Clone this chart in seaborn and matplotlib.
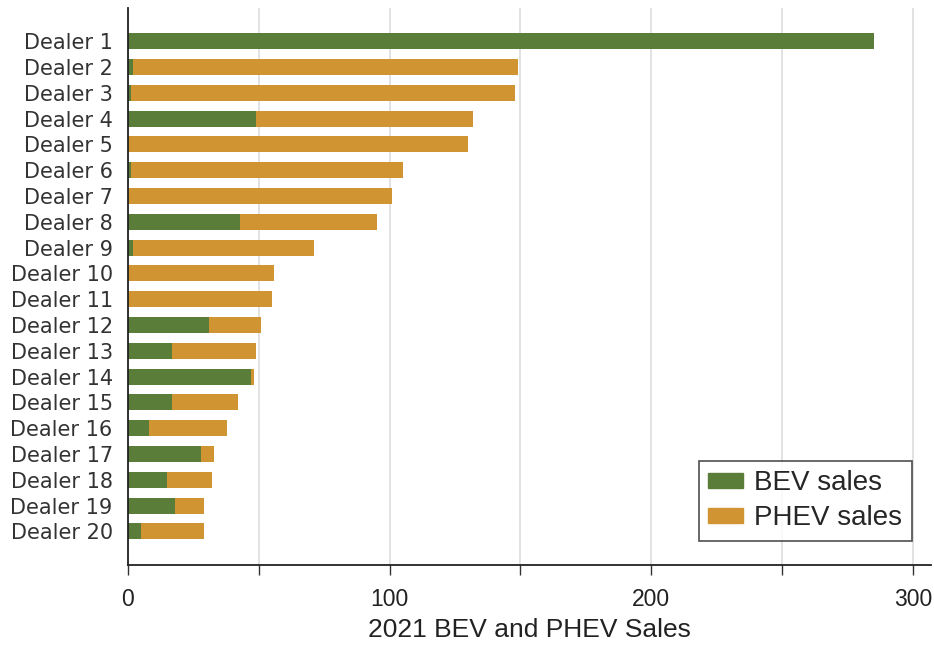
import numpy as np
import pandas as pd
import matplotlib
matplotlib.use('Agg')
import matplotlib.pyplot as plt
import seaborn as sns
from matplotlib.patches import Patch

dealers = [f'Dealer {i}' for i in range(1, 21)]
bev_sales = [285, 2, 1, 49, 0, 1, 0, 43, 2, 0, 0, 31, 17, 47, 17, 8, 28, 15, 18, 5]
phev_sales = [0, 147, 147, 83, 130, 104, 101, 52, 69, 56, 55, 20, 32, 1, 25, 30, 5, 17, 11, 24]

GREEN = '#5a7e3a'
ORANGE = '#d09432'

df = pd.DataFrame({'dealer': dealers, 'bev': bev_sales, 'phev': phev_sales})
df['total'] = df['bev'] + df['phev']

sns.set_style('white')
fig = plt.figure(figsize=(9.34, 6.47), dpi=100)
ax = fig.add_axes([0.137, 0.127, 0.86, 0.861])

# stacked: draw total first (orange), then BEV over it (green)
sns.barplot(data=df, x='total', y='dealer', color=ORANGE, width=0.62,
            saturation=1, ax=ax, orient='h', linewidth=0)
sns.barplot(data=df, x='bev', y='dealer', color=GREEN, width=0.62,
            saturation=1, ax=ax, orient='h', linewidth=0)

ax.set_xlim(0, 307)
ax.set_ylim(20.3, -1.3)
ax.set_xticks(np.arange(0, 301, 50))
ax.set_xticklabels(['0', '', '100', '', '200', '', '300'],
                   fontfamily='Liberation Sans', fontsize=16.5, color='#222222')
ax.tick_params(axis='x', bottom=True, direction='out', length=7, width=1,
               color='#333333', pad=10)
ax.tick_params(axis='y', left=False, labelsize=15, labelcolor='#333333', pad=7.5)
ax.xaxis.grid(True, color='#dddddd', linewidth=1.2)
ax.set_axisbelow(True)

ax.set_xlabel('2021 BEV and PHEV Sales', fontfamily='Liberation Sans', fontsize=19,
              color='#222222', labelpad=5)
ax.set_ylabel('')

for s in ['top', 'right']:
    ax.spines[s].set_visible(False)
for s in ['left', 'bottom']:
    ax.spines[s].set_color('#222222')
    ax.spines[s].set_linewidth(1.3)

handles = [Patch(color=GREEN, label='BEV sales'), Patch(color=ORANGE, label='PHEV sales')]
leg = ax.legend(handles=handles, loc='lower right', bbox_to_anchor=(0.976, 0.043),
                prop={'family': 'Liberation Sans', 'size': 20}, frameon=True,
                fancybox=False, edgecolor='#222222', handlelength=1.25,
                handleheight=0.45, handletextpad=0.4, borderpad=0.35,
                labelspacing=0.32, borderaxespad=0)
leg.get_frame().set_linewidth(1.2)

plt.savefig('out.png', dpi=100)
